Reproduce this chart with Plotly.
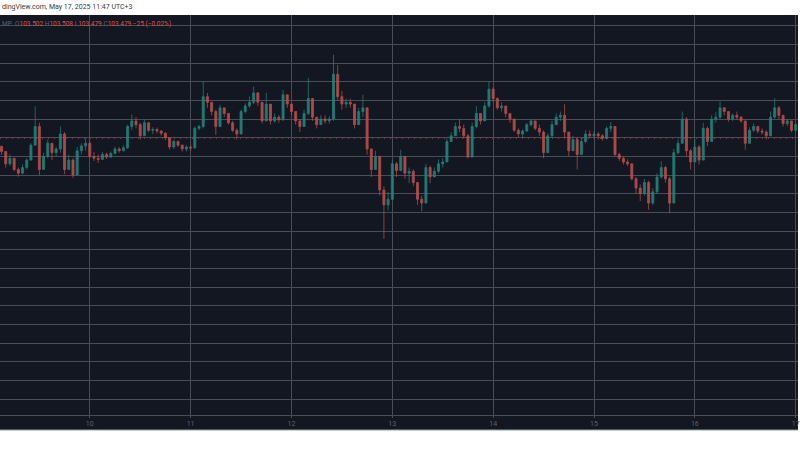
import pandas as pd
import plotly.graph_objects as go

# ---------------- data (hourly candles) ----------------
start_time = "2025-05-09 03:00"
first_open = 103270

closes = [
    103130, 102800, 102950, 102650, 102550, 102700, 102900, 103300, 103800, 102650,
    103000, 103350, 103100, 103200, 103600, 102650, 102900, 102500, 103150, 103280,
    103350, 103000, 102950, 102920, 103050, 102980, 103080, 103200, 103150, 103230,
    103800, 103950, 103850, 103550, 103900, 103700, 103720, 103680, 103620, 103500,
    103250, 103400, 103300, 103200, 103250, 103230, 103750, 103800,
    104600, 104450, 104200, 103800, 104300, 104150, 103900, 103700, 103600, 104200,
    104350, 104450, 104700, 104450, 103950, 104400, 103950, 104050, 103980, 104650,
    104400, 104200, 103950, 103800, 104150, 104550, 104050, 103850, 104000, 103950,
    104000, 105200, 104600, 104400, 104450, 104400, 103850, 104200, 104300, 103200,
    102650, 103000, 102100, 101700, 101850, 102800, 102620,
    103000, 102550, 102600, 102300, 101850, 101750, 102700, 102450, 102600, 102800,
    102850, 103400, 103550, 103800, 103750, 103550, 102980, 103800, 104150, 103950,
    104350, 104800, 104550, 104300, 104350, 104150, 104000, 103700, 103600, 103680,
    103850, 103950, 103750, 103650, 103100, 103550, 103850, 104050, 104100, 103650,
    103150, 103450, 103050, 103400, 103600, 103550, 103600,
    103550, 103480, 103750, 103800, 103050, 102950, 102850, 102800, 102400, 102150,
    102000, 102300, 101750, 102050, 102450, 102700, 102400, 101750, 103100, 103350,
    104000, 103150, 102850, 103250, 102900, 103750, 103400, 104000, 104050, 104300,
    104200, 104000, 104100, 104050, 103950, 103350, 103700, 103800, 103680, 103650,
    103550, 104050, 104300, 104100, 103880, 103950, 103700, 103850,
]
highs = [
    103270, 103100, 103050, 102900, 102700, 102780, 102950, 103350, 104340, 103900,
    103100, 103450, 103350, 103250, 103800, 103650, 103050, 102950, 103250, 103350,
    103490, 103400, 103120, 103050, 103120, 103100, 103130, 103260, 103250, 103300,
    103850, 104120, 104050, 103900, 103980, 103900, 103780, 103770, 103700, 103650,
    103500, 103450, 103420, 103320, 103300, 103290, 103800, 103850,
    105010, 104700, 104450, 104250, 104380, 104300, 104150, 103950, 103750, 104250,
    104420, 104600, 104870, 104720, 104450, 104700, 104400, 104150, 104100, 104780,
    104650, 104400, 104200, 104000, 104250, 105100, 104550, 104050, 104100, 104100,
    104080, 105720, 105450, 104750, 104550, 104550, 104400, 104300, 104650, 104300,
    103200, 103150, 103000, 102200, 102050, 102900, 102850,
    103180, 103000, 102700, 102650, 102300, 101950, 102800, 102750, 102700, 102920,
    102950, 103480, 103650, 103900, 104000, 103850, 103600, 103900, 104350, 104150,
    104450, 105010, 104850, 104580, 104450, 104350, 104150, 104000, 103750, 103720,
    103900, 104000, 103950, 103850, 103700, 103620, 103950, 104150, 104200, 104400,
    103650, 103550, 103500, 103500, 103700, 103700, 103680,
    103650, 103600, 103800, 103920, 103800, 103100, 103000, 102920, 102800, 102450,
    102250, 102400, 102350, 102150, 102550, 102870, 102750, 102450, 103200, 103450,
    104200, 104050, 103200, 103450, 103300, 103900, 103800, 104100, 104180, 104470,
    104320, 104200, 104150, 104200, 104080, 103950, 103780, 103880, 103820, 103750,
    103700, 104200, 104560, 104350, 104100, 104000, 103950, 103900,
]
lows = [
    103040, 102700, 102750, 102600, 102460, 102520, 102650, 102950, 103300, 102500,
    102650, 102950, 102900, 103000, 103100, 102520, 102650, 102420, 102500, 103050,
    103150, 102950, 102880, 102820, 102900, 102930, 102960, 103050, 103100, 103130,
    103200, 103700, 103750, 103450, 103550, 103650, 103600, 103620, 103560, 103430,
    103180, 103200, 103250, 103130, 103130, 103150, 103200, 103700,
    103750, 104300, 104100, 103580, 103780, 104050, 103850, 103650, 103450, 103600,
    104150, 104300, 104400, 104350, 103880, 103950, 103850, 103900, 103900, 103950,
    104300, 104100, 103850, 103650, 103800, 104100, 103950, 103750, 103850, 103880,
    103880, 103950, 104500, 104250, 104300, 104300, 103750, 103850, 104050, 103050,
    102450, 102700, 101950, 100790, 101550, 101850, 102450,
    102600, 102400, 102280, 102200, 101700, 101530, 101750, 102280, 102450, 102550,
    102700, 102850, 103380, 103550, 103650, 103480, 102950, 102980, 103750, 103850,
    103950, 104300, 104450, 104250, 104200, 104050, 103900, 103650, 103520, 103500,
    103650, 103800, 103700, 103550, 102950, 103100, 103500, 103850, 103950, 103500,
    103000, 103150, 102650, 103050, 103350, 103480, 103480,
    103450, 103420, 103450, 103650, 103000, 102880, 102780, 102750, 102350, 102000,
    101800, 101950, 101570, 101700, 102000, 102400, 102300, 101480, 101750, 103050,
    103350, 103000, 102650, 102850, 102780, 102900, 103270, 103400, 103900, 104000,
    104100, 103930, 103950, 103980, 103900, 103180, 103350, 103650, 103620, 103580,
    103450, 103550, 104000, 104000, 103800, 103800, 103650, 103680,
]
opens = [first_open] + closes[:-1]

tick_days = ["2025-05-10", "2025-05-11", "2025-05-12", "2025-05-13",
             "2025-05-14", "2025-05-15", "2025-05-16", "2025-05-17"]
tick_text = ["10", "11", "12", "13", "14", "15", "16", "17"]

last_price = 103479
legend_symbol = "MP"
legend_o, legend_h, legend_l, legend_c = "103.502", "103.508", "103.479", "103.479"
legend_chg = "−25 (−0.02%)"
header_text = "dingView.com, May 17, 2025 11:47 UTC+3"

x_range = ["2025-05-09 02:38", "2025-05-17 00:33"]
y_range = [96074, 106786]

# ---------------- figure ----------------
times = pd.date_range(start_time, periods=len(closes), freq="h")

BG = "#131722"
GRID = "#4a4d57"
UP = "#23857d"
DOWN = "#bf4f4c"

fig = go.Figure(go.Candlestick(
    x=times, open=opens, high=highs, low=lows, close=closes,
    increasing=dict(line=dict(color=UP, width=0.8), fillcolor=UP),
    decreasing=dict(line=dict(color=DOWN, width=0.8), fillcolor=DOWN),
    whiskerwidth=0, hoverinfo="skip", showlegend=False, opacity=0.9,
))

fig.update_layout(
    width=800, height=450,
    margin=dict(l=0, r=0, t=15, b=35),
    paper_bgcolor="white", plot_bgcolor=BG,
    font=dict(family="Roboto", color="#6a6d78"),
    xaxis=dict(
        type="date", range=x_range, rangeslider=dict(visible=False),
        showgrid=True, gridcolor=GRID, gridwidth=1,
        tickvals=tick_days, ticktext=tick_text,
        tickfont=dict(size=7, color="#5d606b", family="Roboto"),
        ticks="outside", ticklen=2, tickcolor=GRID,
        ticklabeloverflow="allow",
        showline=True, linecolor=GRID, linewidth=1,
        zeroline=False, fixedrange=True,
    ),
    yaxis=dict(
        range=y_range, dtick=500, tick0=0,
        showgrid=True, gridcolor=GRID, gridwidth=1,
        showticklabels=False, zeroline=False, ticks="", fixedrange=True,
    ),
    shapes=[
        dict(type="rect", xref="paper", yref="paper", x0=0, x1=1, y0=-0.0375, y1=1,
             fillcolor=BG, line=dict(width=0), layer="below"),
        dict(type="line", xref="paper", yref="paper", x0=0, x1=1, y0=-0.0375, y1=-0.0375,
             line=dict(color="#8fa3a6", width=1)),
        dict(type="line", xref="paper", yref="y", x0=0, x1=1, y0=last_price, y1=last_price,
             line=dict(color="rgba(239,83,80,0.5)", width=1, dash="1px,5px")),
    ],
    annotations=[
        dict(xref="paper", yref="paper", x=0, y=1, yshift=2, xanchor="left", yanchor="bottom",
             text=header_text, showarrow=False,
             font=dict(size=7, color="#3b3b3b", family="Roboto")),
        dict(xref="paper", yref="paper", x=0, y=1, yshift=-3, xanchor="left", yanchor="top",
             text=(f"<span style='color:#5d606b'>{legend_symbol}  O</span>"
                   f"<span style='color:#d9534f'>{legend_o}</span>"
                   f"<span style='color:#5d606b'> H</span>"
                   f"<span style='color:#d9534f'>{legend_h}</span>"
                   f"<span style='color:#5d606b'> L</span>"
                   f"<span style='color:#d9534f'>{legend_l}</span>"
                   f"<span style='color:#5d606b'> C</span>"
                   f"<span style='color:#d9534f'>{legend_c} {legend_chg}</span>"),
             showarrow=False, font=dict(size=6.5, family="Roboto")),
    ],
)

fig.write_html("out.html", config={"displayModeBar": False, "staticPlot": True},
               post_script="document.body.style.margin='0';")
